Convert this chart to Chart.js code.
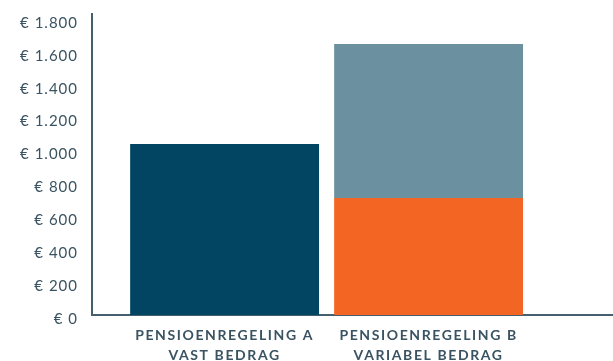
<!DOCTYPE html>
<html><head><meta charset="utf-8">
<script src="https://cdn.jsdelivr.net/npm/chart.js@4"></script>
<style>html,body{margin:0;padding:0;background:#fff}#wrap{width:613px;height:361px}</style>
</head><body><div id="wrap"><canvas id="c"></canvas></div>
<script>
const categories = [["PENSIOENREGELING A", "VAST BEDRAG"], ["PENSIOENREGELING B", "VARIABEL BEDRAG"]];
const categoryPositions = [0.65, 1.65];
const vastBedrag = [1040, 0];
const variabelBasis = [0, 711];
const variabelExtra = [0, 936];
const yTicks = [0, 200, 400, 600, 800, 1000, 1200, 1400, 1600, 1800];

const pts = arr => arr.map((v, i) => ({x: categoryPositions[i], y: v}));
const axisColor = '#44606e';
const textColor = '#3a5362';

function spaced(scale, px) {
  if (scale._spacedWrapped) return;
  scale._spacedWrapped = true;
  const orig = scale.drawLabels;
  scale.drawLabels = function (area) {
    const ctx = this.ctx;
    const prev = ctx.letterSpacing;
    ctx.letterSpacing = px;
    orig.call(this, area);
    ctx.letterSpacing = prev || '0px';
  };
}

new Chart(document.getElementById('c'), {
  type: 'bar',
  data: {
    datasets: [
      {label: 'Vast', data: pts(vastBedrag), backgroundColor: '#024562'},
      {label: 'Variabel basis', data: pts(variabelBasis), backgroundColor: '#f26522'},
      {label: 'Variabel extra', data: pts(variabelExtra), backgroundColor: '#6b91a0'}
    ]
  },
  options: {
    responsive: true, maintainAspectRatio: false, animation: false,
    layout: {padding: {top: 14, right: 0, left: 0, bottom: 0}, autoPadding: false},
    datasets: {bar: {barPercentage: 1, categoryPercentage: 0.926, borderWidth: 0}},
    plugins: {legend: {display: false}, tooltip: {enabled: false}},
    scales: {
      x: {
        type: 'linear', stacked: true, min: 0, max: 2.554, offset: false,
        grid: {display: false, drawTicks: false},
        border: {display: true, color: axisColor, width: 2},
        afterBuildTicks: s => { s.ticks = categoryPositions.map(v => ({value: v})); },
        afterFit: s => { s.height = 46; s.paddingLeft = 0; s.paddingRight = 0; spaced(s, '1.6px'); },
        ticks: {
          autoSkip: false, maxRotation: 0, minRotation: 0, padding: 11,
          color: textColor,
          font: {family: 'Lato', size: 14, weight: 'bold', lineHeight: 1.4},
          callback: (v, i) => categories[i]
        }
      },
      y: {
        stacked: true, min: 0, max: 1830,
        grid: {display: false, drawTicks: false},
        border: {display: true, color: axisColor, width: 2},
        afterBuildTicks: s => { s.ticks = yTicks.map(v => ({value: v})); },
        afterFit: s => { s.width = 92; s.paddingTop = 0; s.paddingBottom = 0; spaced(s, '1px'); },
        ticks: {
          padding: 14, color: textColor, labelOffset: 4,
          font: {family: 'Lato', size: 15},
          callback: v => '€ ' + v.toString().replace(/\B(?=(\d{3})+(?!\d))/g, '.')
        }
      }
    }
  }
});
</script></body></html>
